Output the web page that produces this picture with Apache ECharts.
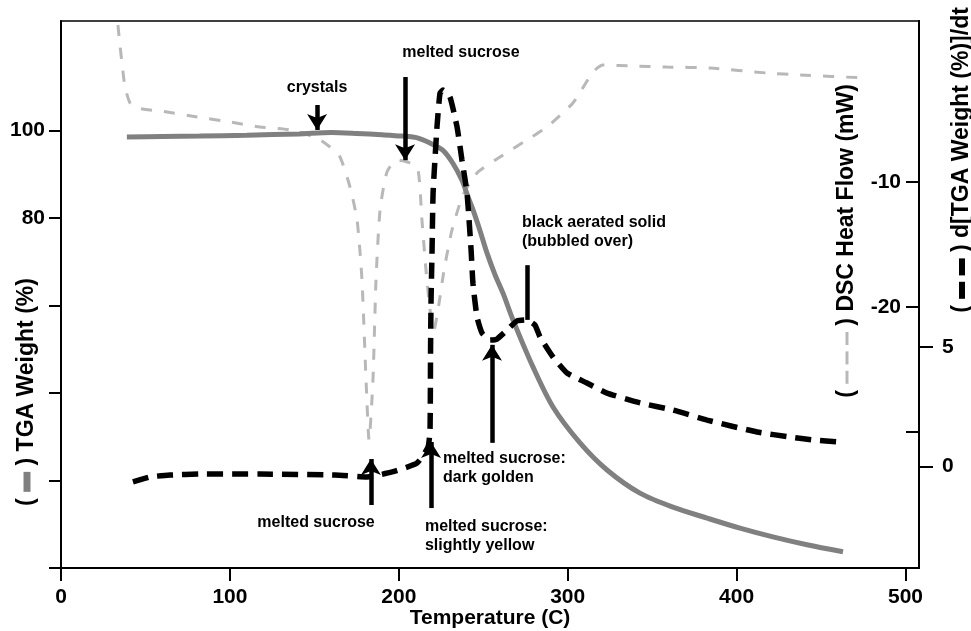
<!DOCTYPE html>
<html>
<head>
<meta charset="utf-8">
<title>TGA / DSC of sucrose</title>
<script src="https://cdn.jsdelivr.net/npm/echarts@6/dist/echarts.min.js"></script>
<style>
  html, body { margin: 0; padding: 0; background: #fff; }
  #chart { width: 971px; height: 631px; }
</style>
</head>
<body>
<div id="chart"></div>
<script>
// TGA weight (%) vs temperature (C)
const tgaTemp = [39, 60, 82, 110, 141, 160, 175, 190, 202, 211, 218.5, 226, 232, 237.4, 241, 244, 248, 252.2, 257, 261.7, 267.6, 279.5, 291.3, 307.3, 323.3, 342.8, 362.3, 382.5, 402, 421.5, 441.7, 463]
const tgaWeight = [98.5, 98.6, 98.7, 98.9, 99.2, 99.5, 99.3, 99.0, 98.7, 98.3, 97.1, 95.5, 92.5, 88.6, 84.8, 81.8, 77.2, 72.0, 67.0, 62.8, 56.7, 45.9, 36.8, 28.6, 22.4, 17.1, 13.9, 11.4, 9.1, 7.1, 5.3, 3.7]

// DSC heat flow (mW)
const dscTemp = [33.7, 34.9, 36.1, 37.9, 40.9, 45.0, 62.8, 80.5, 100.1, 117.8, 135.6, 151.6, 159.3, 165.2, 171.1, 175.3, 178.2, 180.6, 182.4, 184.7, 186.5, 188.9, 193.0, 198.9, 206.6, 211.4, 213.7, 216.1, 218.5, 220.8, 223.2, 226.8, 231.5, 238.0, 246.3, 259.9, 277.7, 287.7, 303.1, 315.0, 320.9, 338.7, 358.8, 384.3, 418.0, 437.5, 476.6]
const dscFlow = [2.54, 0.94, -0.50, -2.42, -3.70, -4.10, -4.42, -4.82, -5.22, -5.62, -5.86, -6.50, -7.22, -8.02, -10.42, -13.06, -17.86, -25.86, -30.66, -25.86, -17.86, -12.26, -9.22, -8.26, -8.50, -9.06, -13.06, -17.06, -20.26, -21.86, -20.26, -17.06, -13.86, -11.06, -9.30, -8.02, -6.50, -5.62, -3.70, -1.22, -0.66, -0.74, -0.82, -0.90, -1.30, -1.46, -1.70]

// d[TGA weight]/dt
const dtgTemp = [42.6, 52.7, 64.5, 82.3, 117.8, 162.2, 181.2, 196.0, 210.8, 217.3, 218.5, 218.8, 219.1, 219.7, 220.3, 222.6, 224.4, 226.2, 230.3, 234.5, 237.4, 240.4, 242.8, 243.9, 246.3, 249.3, 254.0, 258.1, 264.1, 270.0, 275.9, 280.6, 283.6, 291.3, 299.6, 311.4, 323.3, 342.8, 362.3, 382.5, 412.1, 431.6, 445.2, 461.2]
const dtgRate = [-0.64, -0.43, -0.35, -0.31, -0.31, -0.35, -0.43, -0.22, 0.15, 0.82, 1.54, 4.88, 6.97, 9.07, 11.45, 14.21, 15.63, 15.76, 15.47, 14.21, 12.83, 11.45, 9.07, 7.68, 6.26, 5.59, 5.30, 5.34, 5.72, 6.10, 6.14, 5.93, 5.43, 4.59, 3.92, 3.50, 3.08, 2.67, 2.37, 1.95, 1.45, 1.24, 1.12, 1.03]

// annotations, in temperature / TGA weight units
const noteTexts = ['crystals', 'melted sucrose', 'black aerated solid\n(bubbled over)', 'melted sucrose', 'melted sucrose:\nslightly yellow', 'melted sucrose:\ndark golden']
const noteTemp = [151.6, 236.8, 272.9, 151.0, 215.5, 226.2]
const noteWeight = [109.7, 117.7, 76.8, 10.3, 7.3, 22.9]
const noteAlign = ['center', 'center', 'left', 'center', 'left', 'left']

const arrowTemp = [151.6, 203.7, 275.9, 183.5, 219.1, 255.2]
const arrowFrom = [105.8, 112.2, 69.2, 14.4, 13.7, 28.6]
const arrowTo = [100.1, 93.2, 56.7, 24.9, 28.8, 51.0]
const arrowHead = [true, true, false, true, true, true]

const font = 'Liberation Sans, Arial, Helvetica, sans-serif'
const zip = (a, b) => a.map((v, i) => [v, b[i]])

const chart = echarts.init(document.getElementById('chart'))

const labelStyle = {
  color: '#000',
  fontFamily: font,
  fontWeight: 'bold',
  fontSize: 21
}

// rotated axis titles (with a small line sample in the brackets)
const titleStyle = {
  fill: '#000',
  fontFamily: font,
  fontWeight: 'bold',
  fontSize: 23,
  align: 'center',
  verticalAlign: 'middle'
}

chart.setOption({
  animation: false,
  backgroundColor: '#fff',
  grid: {
    left: 61,
    right: 52,
    top: 21,
    bottom: 63,
    outerBoundsMode: 'none',
    show: true,
    borderColor: '#000',
    borderWidth: 1.5,
    backgroundColor: 'transparent'
  },
  xAxis: {
    type: 'value',
    min: 0,
    max: 508,
    name: 'Temperature (C)',
    nameLocation: 'middle',
    nameGap: 40,
    nameMoveOverlap: false,
    nameTextStyle: labelStyle,
    axisLine: { lineStyle: { color: '#000', width: 2 } },
    axisTick: { length: 13, lineStyle: { color: '#000', width: 2 }, customValues: [0, 100, 200, 300, 400, 500] },
    axisLabel: { ...labelStyle, margin: 19, customValues: [0, 100, 200, 300, 400, 500] },
    splitLine: { show: false }
  },
  yAxis: [
    {
      // TGA weight
      type: 'value',
      position: 'left',
      min: 0,
      max: 125,
      axisLine: { show: true, lineStyle: { color: '#000', width: 2 } },
      axisTick: { show: true, length: 12, lineStyle: { color: '#000', width: 2 }, customValues: [0, 20, 40, 60, 80, 100] },
      axisLabel: { ...labelStyle, margin: 16, customValues: [80, 100] },
      splitLine: { show: false }
    },
    {
      // DSC heat flow
      type: 'value',
      position: 'right',
      min: -40.9,
      max: 2.86,
      axisLine: { show: true, lineStyle: { color: '#000', width: 2 } },
      axisTick: { show: true, inside: true, length: 13, lineStyle: { color: '#000', width: 2 }, customValues: [-30, -20, -10] },
      axisLabel: { ...labelStyle, inside: true, margin: 18, customValues: [-20, -10] },
      splitLine: { show: false }
    },
    {
      // derivative of TGA weight
      type: 'value',
      position: 'right',
      min: -4.24,
      max: 18.65,
      axisLine: { show: true, lineStyle: { color: '#000', width: 2 } },
      axisTick: { show: true, length: 14, lineStyle: { color: '#000', width: 2 }, customValues: [0, 5] },
      axisLabel: { ...labelStyle, margin: 23, customValues: [0, 5] },
      splitLine: { show: false }
    }
  ],
  graphic: [
    {
      type: 'text',
      x: 27,
      y: 392,
      rotation: Math.PI / 2,
      style: {
        ...titleStyle,
        text: '( {tga|} ) TGA Weight (%)',
        rich: { tga: { width: 20, height: 7, backgroundColor: '#808080' } }
      }
    },
    {
      type: 'text',
      x: 847,
      y: 241,
      rotation: Math.PI / 2,
      style: {
        ...titleStyle,
        text: '( {d|} {d|} {d|} ) DSC Heat Flow (mW)',
        rich: { d: { width: 13, height: 3, backgroundColor: '#b8b8b8' } }
      }
    },
    {
      type: 'text',
      x: 962,
      y: 160,
      rotation: Math.PI / 2,
      style: {
        ...titleStyle,
        text: '( {k|} {k|} ) d[TGA Weight (%)]/dt',
        rich: { k: { width: 17, height: 6, backgroundColor: '#000' } }
      }
    }
  ],
  series: [
    {
      name: 'DSC Heat Flow',
      type: 'line',
      yAxisIndex: 1,
      data: zip(dscTemp, dscFlow),
      showSymbol: false,
      smooth: 0.2,
      lineStyle: { color: '#b8b8b8', width: 3, type: [11, 12] },
      z: 1
    },
    {
      name: 'TGA Weight',
      type: 'line',
      yAxisIndex: 0,
      data: zip(tgaTemp, tgaWeight),
      showSymbol: false,
      smooth: 0.3,
      lineStyle: { color: '#808080', width: 5 },
      z: 2,
      markLine: {
        silent: true,
        animation: false,
        symbol: ['none', 'arrow'],
        symbolSize: [15, 16],
        label: { show: false },
        lineStyle: { color: '#000', width: 4.5, type: 'solid' },
        data: arrowTemp.map((t, i) => [
          { coord: [t, arrowFrom[i]], symbol: 'none' },
          { coord: [t, arrowTo[i]], symbol: arrowHead[i] ? 'arrow' : 'none' }
        ])
      },
      markPoint: {
        silent: true,
        animation: false,
        symbol: 'circle',
        symbolSize: 0,
        data: noteTexts.map((txt, i) => ({
          coord: [noteTemp[i], noteWeight[i]],
          label: {
            show: true,
            position: 'inside',
            formatter: txt,
            align: noteAlign[i],
            verticalAlign: 'middle',
            color: '#000',
            fontFamily: font,
            fontWeight: 'bold',
            fontSize: 16,
            lineHeight: 19
          }
        }))
      }
    },
    {
      name: 'd[TGA Weight]/dt',
      type: 'line',
      yAxisIndex: 2,
      data: zip(dtgTemp, dtgRate),
      showSymbol: false,
      smooth: 0.15,
      lineStyle: { color: '#000', width: 5.5, type: [16, 9] },
      z: 3
    }
  ]
})
</script>
</body>
</html>
